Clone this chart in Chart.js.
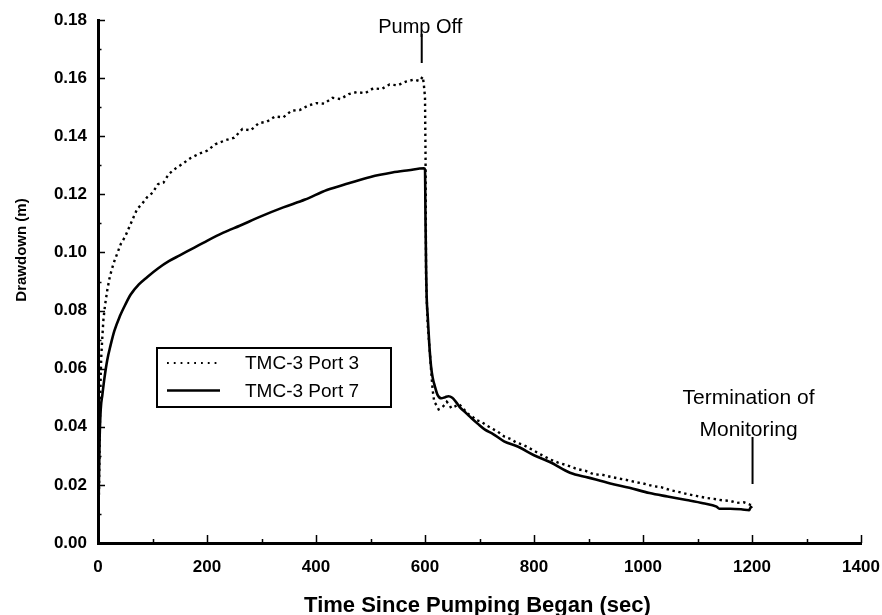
<!DOCTYPE html>
<html>
<head>
<meta charset="utf-8">
<title>Drawdown</title>
<script src="https://cdn.jsdelivr.net/npm/chart.js@4.4.0/dist/chart.umd.min.js"></script>
<style>
    html, body { margin: 0; padding: 0; background: #fff; }
    #wrap { width: 882px; height: 615px; }
</style>
</head>
<body>
<div id="wrap"><canvas id="myChart" width="882" height="615"></canvas></div>
<script>
// TMC-3 Port 7 (solid line)
const timePort7 = [0, 1, 2, 3, 5, 8, 12, 17, 23, 30, 40, 50, 60, 75, 90, 110, 130, 150, 175, 200,
    230, 260, 300, 340, 380, 420, 460, 500, 540, 570, 598, 600, 601, 602, 603, 605, 608, 611, 614, 618,
    623, 630, 637, 643, 650, 657, 665, 675, 685, 697, 710, 725, 745, 770, 800, 830, 866, 900, 940, 975,
    1012, 1045, 1080, 1110, 1135, 1140, 1160, 1180, 1195, 1198, 1200];
const drawPort7 = [0, 0.012, 0.025, 0.036, 0.046, 0.051, 0.057, 0.063, 0.068, 0.073, 0.078, 0.082, 0.0855, 0.089, 0.0915, 0.0945, 0.097, 0.099, 0.1015, 0.104,
    0.1068, 0.1092, 0.1125, 0.1155, 0.1182, 0.1215, 0.1238, 0.126, 0.1275, 0.1283, 0.129, 0.1285, 0.11, 0.095, 0.085, 0.078, 0.068, 0.061, 0.057, 0.054,
    0.051, 0.0498, 0.0502, 0.0505, 0.05, 0.0485, 0.0465, 0.0448, 0.043, 0.041, 0.039, 0.0375, 0.035, 0.0332, 0.0302, 0.0278, 0.0242, 0.0225, 0.0205, 0.019,
    0.0172, 0.016, 0.0148, 0.0137, 0.0125, 0.0118, 0.0118, 0.0116, 0.0113, 0.0125, 0.012];

// TMC-3 Port 3 (dotted line)
const timePort3 = [0, 2, 3, 4, 5, 6, 8, 10, 13, 17, 21, 25, 30, 36, 42, 50, 58, 65, 72, 80,
    90, 100, 110, 120, 130, 143, 155, 170, 186, 200, 215, 235, 250, 265, 280, 295, 310, 325, 340, 355,
    370, 385, 400, 415, 430, 445, 460, 475, 490, 505, 520, 535, 550, 565, 580, 590, 596, 598, 600, 601,
    602, 605, 608, 611, 614, 617, 621, 625, 630, 636, 640, 645, 648, 655, 662, 670, 676, 685, 694, 703,
    712, 722, 733, 746, 757, 768, 780, 798, 812, 829, 845, 860, 878, 895, 910, 925, 940, 955, 970, 985,
    1000, 1018, 1033, 1050, 1067, 1082, 1098, 1116, 1130, 1145, 1160, 1172, 1185, 1196, 1200];
const drawPort3 = [0, 0.02, 0.035, 0.047, 0.058, 0.064, 0.071, 0.077, 0.082, 0.087, 0.091, 0.094, 0.097, 0.1, 0.103, 0.1055, 0.109, 0.112, 0.115, 0.1165,
    0.119, 0.1205, 0.1235, 0.124, 0.127, 0.129, 0.1305, 0.1325, 0.134, 0.135, 0.1372, 0.1387, 0.1395, 0.1425, 0.142, 0.1445, 0.145, 0.1468, 0.1465, 0.1488,
    0.149, 0.1505, 0.1514, 0.1512, 0.1532, 0.1528, 0.1545, 0.1552, 0.1548, 0.1565, 0.1562, 0.1578, 0.1575, 0.1588, 0.1595, 0.159, 0.1605, 0.1575, 0.1535, 0.132,
    0.09, 0.075, 0.068, 0.06, 0.0527, 0.0485, 0.0475, 0.046, 0.0465, 0.0475, 0.0486, 0.0475, 0.0464, 0.047, 0.0478, 0.0465, 0.0448, 0.0438, 0.0423, 0.0418,
    0.0406, 0.0395, 0.0384, 0.0366, 0.0358, 0.0345, 0.0338, 0.032, 0.0305, 0.0288, 0.0276, 0.0268, 0.0255, 0.0248, 0.0236, 0.0235, 0.0228, 0.0222, 0.0217, 0.021,
    0.0205, 0.0196, 0.0192, 0.0182, 0.0175, 0.0168, 0.0162, 0.0155, 0.0152, 0.0147, 0.0145, 0.0138, 0.014, 0.0132, 0.013];

// axis ticks
const xMajorTicks = [0, 200, 400, 600, 800, 1000, 1200, 1400];
const xMinorTicks = [100, 300, 500, 700, 900, 1100, 1300];
const yMajorTicks = [0, 0.02, 0.04, 0.06, 0.08, 0.10, 0.12, 0.14, 0.16, 0.18];
const yMinorTicks = [0.01, 0.03, 0.05, 0.07, 0.09, 0.11, 0.13, 0.15, 0.17];

const seriesLabels = ["TMC-3 Port 3", "TMC-3 Port 7"];
const xTitle = "Time Since Pumping Began (sec)";
const yTitle = "Drawdown (m)";

// annotations: text lines, x value of the marker line, marker line top/bottom (y values)
const pumpOffText = ["Pump Off"];
const pumpOffMark = { x: 594, yTop: 0.1752, yBottom: 0.1652 };
const endText = ["Termination of", "Monitoring"];
const endMark = { x: 1201, yTop: 0.0365, yBottom: 0.0203 };

const FONT = '"Liberation Sans", Arial, sans-serif';

const toPoints = (xs, ys) => xs.map((x, i) => ({ x: x, y: ys[i] }));

// inward tick marks + axis titles + annotations + legend box
const decorPlugin = {
    id: "decor",
    afterDraw(chart) {
        const ctx = chart.ctx;
        const xs = chart.scales.x;
        const ys = chart.scales.y;
        const area = chart.chartArea;

        ctx.save();
        ctx.strokeStyle = "#000";
        ctx.lineWidth = 1.5;
        ctx.beginPath();
        xMajorTicks.forEach((v) => {
            const px = Math.round(xs.getPixelForValue(v)) + 0.5;
            ctx.moveTo(px, area.bottom);
            ctx.lineTo(px, area.bottom - 8);
        });
        xMinorTicks.forEach((v) => {
            const px = Math.round(xs.getPixelForValue(v)) + 0.5;
            ctx.moveTo(px, area.bottom);
            ctx.lineTo(px, area.bottom - 4);
        });
        yMajorTicks.forEach((v) => {
            const py = Math.round(ys.getPixelForValue(v)) + 0.5;
            ctx.moveTo(area.left, py);
            ctx.lineTo(area.left + 7, py);
        });
        yMinorTicks.forEach((v) => {
            const py = Math.round(ys.getPixelForValue(v)) + 0.5;
            ctx.moveTo(area.left, py);
            ctx.lineTo(area.left + 3.5, py);
        });
        ctx.stroke();

        // axis titles
        ctx.fillStyle = "#000";
        ctx.textAlign = "center";
        ctx.textBaseline = "alphabetic";
        ctx.font = "bold 22px " + FONT;
        ctx.fillText(xTitle, (area.left + area.right) / 2 - 2, 612);

        ctx.save();
        ctx.translate(26, 250);
        ctx.rotate(-Math.PI / 2);
        ctx.font = "bold 15px " + FONT;
        ctx.fillText(yTitle, 0, 0);
        ctx.restore();

        // annotations
        ctx.lineWidth = 2;
        [[pumpOffText, pumpOffMark, 20, -1.5], [endText, endMark, 21, -4]].forEach(([lines, mark, size, dx]) => {
            const px = xs.getPixelForValue(mark.x);
            const top = ys.getPixelForValue(mark.yTop);
            const bottom = ys.getPixelForValue(mark.yBottom);
            ctx.beginPath();
            ctx.moveTo(px, top);
            ctx.lineTo(px, bottom);
            ctx.stroke();
            ctx.font = size + "px " + FONT;
            const lh = 31.5;
            lines.forEach((t, i) => {
                ctx.fillText(t, px + dx, top - 1 - (lines.length - 1 - i) * lh);
            });
        });

        // legend box
        const bx = 157, by = 348, bw = 234, bh = 59;
        ctx.fillStyle = "#fff";
        ctx.fillRect(bx, by, bw, bh);
        ctx.lineWidth = 2;
        ctx.strokeRect(bx, by, bw, bh);
        ctx.fillStyle = "#000";
        ctx.textAlign = "left";
        ctx.textBaseline = "middle";
        ctx.font = "19px " + FONT;
        chart.data.datasets.forEach((ds, i) => {
            const ly = by + 15 + i * 27.5;
            ctx.save();
            ctx.beginPath();
            if (i === 0) {
                ctx.lineWidth = 1.8;
                ctx.setLineDash([1.8, 5]);
            } else {
                ctx.lineWidth = 2.5;
            }
            ctx.moveTo(167, ly);
            ctx.lineTo(220, ly);
            ctx.stroke();
            ctx.restore();
            ctx.fillText(ds.label, 245, ly + 1);
        });
        ctx.restore();
    }
};

function createChart() {
    const ctx = document.getElementById("myChart");
    return new Chart(ctx, {
        type: "scatter",
        data: {
            datasets: [
                {
                    label: seriesLabels[0],
                    data: toPoints(timePort3, drawPort3),
                    showLine: true,
                    borderColor: "#000",
                    borderWidth: 2.4,
                    borderDash: [2.4, 3.6],
                    pointRadius: 0,
                    tension: 0,
                },
                {
                    label: seriesLabels[1],
                    data: toPoints(timePort7, drawPort7),
                    showLine: true,
                    borderColor: "#000",
                    borderWidth: 2.6,
                    pointRadius: 0,
                    cubicInterpolationMode: "monotone",
                },
            ],
        },
        options: {
            responsive: false,
            animation: false,
            devicePixelRatio: 1,
            layout: { padding: { top: 20, right: 0, bottom: 0, left: 0 } },
            plugins: {
                legend: { display: false },
                tooltip: { enabled: false },
            },
            scales: {
                x: {
                    type: "linear",
                    min: 0,
                    max: 1400,
                    afterFit: (s) => {
                        s.height = 72;
                        s.paddingLeft = 0;
                        s.paddingRight = 21;
                    },
                    afterBuildTicks: (s) => { s.ticks = xMajorTicks.map((v) => ({ value: v })); },
                    ticks: {
                        color: "#000",
                        padding: 14,
                        maxRotation: 0,
                        callback: (v) => String(v),
                        font: { family: FONT, size: 17, weight: "bold" },
                    },
                    grid: { drawOnChartArea: false, drawTicks: false, color: "rgba(0,0,0,0)" },
                    border: { display: true, color: "#000", width: 3 },
                },
                y: {
                    min: 0,
                    max: 0.18,
                    afterFit: (s) => {
                        s.width = 98;
                        s.paddingTop = 0;
                        s.paddingBottom = 0;
                    },
                    afterBuildTicks: (s) => { s.ticks = yMajorTicks.map((v) => ({ value: v })); },
                    ticks: {
                        color: "#000",
                        padding: 11,
                        callback: (v) => v.toFixed(2),
                        font: { family: FONT, size: 17, weight: "bold" },
                    },
                    grid: { drawOnChartArea: false, drawTicks: false, color: "rgba(0,0,0,0)" },
                    border: { display: true, color: "#000", width: 3 },
                },
            },
        },
        plugins: [decorPlugin],
    });
}

document.addEventListener("DOMContentLoaded", () => {
    createChart();
});
</script>
</body>
</html>
